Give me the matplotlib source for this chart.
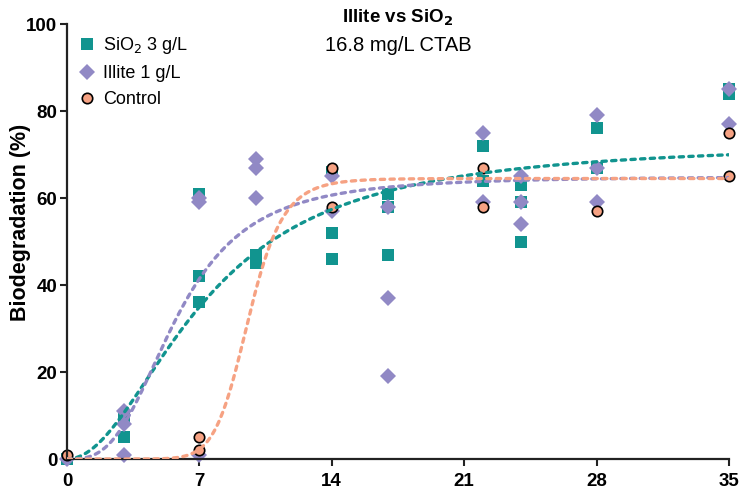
import numpy as np
import matplotlib
matplotlib.use("Agg")
import matplotlib.pyplot as plt

plt.rcParams['font.family'] = ['Liberation Sans', 'DejaVu Sans']

# Replicate measurements (day, % biodegradation)
sio2_days = [0, 0, 3, 3, 7, 7, 7, 10, 10, 14, 14, 14, 17, 17, 17, 22, 22, 24, 24, 24, 28, 28, 35, 35]
sio2_vals = [0, 0, 5, 10, 61, 42, 36, 47, 45, 66, 52, 46, 61, 58, 47, 72, 64, 63, 59, 50, 76, 67, 85, 84]

illite_days = [0, 3, 3, 3, 7, 7, 7, 10, 10, 10, 14, 14, 17, 17, 17, 22, 22, 24, 24, 24, 28, 28, 28, 35, 35]
illite_vals = [0, 11, 8, 1, 60, 59, 1, 69, 67, 60, 65, 57, 58, 37, 19, 75, 59, 65, 59, 54, 79, 67, 59, 85, 77]

control_days = [0, 7, 7, 14, 14, 22, 22, 28, 35, 35]
control_vals = [1, 5, 2, 67, 58, 67, 58, 57, 75, 65]

# Hill-type fit parameters: (plateau, half-time, slope)
sio2_fit = (73.0, 7.3, 2.0)
illite_fit = (65.0, 5.8, 3.0)
control_fit = (64.5, 9.6, 10.5)

x_ticks = [0, 7, 14, 21, 28, 35]
y_ticks = [0, 20, 40, 60, 80, 100]

teal = "#11948f"
purple = "#9189c5"
orange = "#f6a283"


def hill(t, top, k, n):
    t = np.asarray(t, dtype=float)
    return top * t**n / (k**n + t**n)


fig = plt.figure(figsize=(7.4, 4.92), dpi=100)
ax = fig.add_axes([0.0905, 0.067, 0.8945, 0.884])

t = np.linspace(0, 35, 400)
dash_kw = dict(linestyle=(0, (1.3, 1.6)), linewidth=2.4, dash_capstyle='round', zorder=3)
ax.plot(t, hill(t, *sio2_fit), color=teal, **dash_kw)
ax.plot(t, hill(t, *illite_fit), color=purple, **dash_kw)
ax.plot(t, hill(t, *control_fit), color=orange, **dash_kw)

ax.plot(sio2_days, sio2_vals, linestyle='none', marker='s', markersize=8.5,
        color=teal, markeredgewidth=0, clip_on=False, zorder=2, label="SiO$_2$ 3 g/L")
ax.plot(illite_days, illite_vals, linestyle='none', marker='D', markersize=8,
        color=purple, markeredgewidth=0, clip_on=False, zorder=2.1, label="Illite 1 g/L")
ax.plot(control_days, control_vals, linestyle='none', marker='o', markersize=7.5,
        markerfacecolor=orange, markeredgecolor='black', markeredgewidth=1.2,
        clip_on=False, zorder=2.2, label="Control")

ax.set_xlim(0, 35)
ax.set_ylim(0, 100)
ax.set_xticks(x_ticks)
ax.set_yticks(y_ticks)
for lab in ax.get_xticklabels() + ax.get_yticklabels():
    lab.set_fontweight('bold')
    lab.set_fontsize(13.5)
ax.tick_params(direction='out', length=5, width=1.5, color='#222222')
ax.tick_params(axis='x', pad=5)
ax.tick_params(axis='y', pad=2)
for side in ('top', 'right'):
    ax.spines[side].set_visible(False)
for side in ('left', 'bottom'):
    ax.spines[side].set_linewidth(1.6)
    ax.spines[side].set_color('#222222')

ax.set_ylabel("Biodegradation (%)", fontsize=15.5, fontweight='bold')
ax.yaxis.set_label_coords(-0.055, 0.545)

fig.text(0.538, 0.963, "Illite vs SiO$_\\mathbf{2}$", ha='center', va='center',
         fontsize=13.5, fontweight='bold')
fig.text(0.538, 0.908, "16.8 mg/L CTAB", ha='center', va='center', fontsize=14.5)

leg = ax.legend(loc='upper left', bbox_to_anchor=(0.0, 1.0), frameon=False,
                fontsize=13, handletextpad=0.4, labelspacing=0.5,
                handlelength=1.0, borderaxespad=0.2)

fig.savefig("out.png", dpi=100)
